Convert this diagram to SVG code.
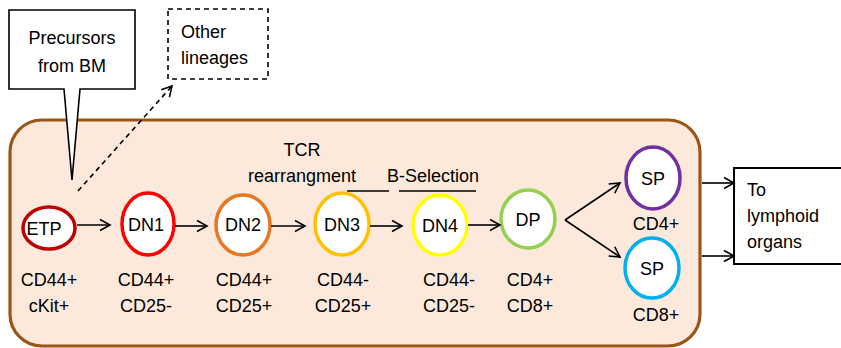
<svg xmlns="http://www.w3.org/2000/svg" width="841" height="348" viewBox="0 0 841 348">
<defs>
<marker id="arr" markerUnits="userSpaceOnUse" markerWidth="14" markerHeight="14" viewBox="0 0 14 14" refX="12" refY="7" orient="auto">
<path d="M2,1.5 L12,7 L2,12.5" fill="none" stroke="#000" stroke-width="1.6"/>
</marker>
</defs>
<style>
text{font-family:"Liberation Sans",Arial,sans-serif;font-size:18px;fill:#000}
.c{text-anchor:middle}
.cell{fill:#fff;stroke-width:3.5}
.ln{stroke:#000;stroke-width:1.6;fill:none}
</style>
<rect x="0" y="0" width="841" height="348" fill="#fff"/>
<g id="thymus">
<rect x="10" y="120" width="690" height="226" rx="32" ry="32" fill="#fde9db" stroke="#9a5519" stroke-width="3.2"/>
</g>
<g id="precursors">
<path d="M9,10 H135 V89 H80 L72,180 L64,89 H9 Z" fill="#fff" stroke="#000" stroke-width="1.6"/>
<text class="c" x="72" y="44">Precursors</text>
<text class="c" x="72" y="72">from BM</text>
</g>
<g id="other">
<rect x="168" y="9" width="100" height="70" fill="#fff" stroke="#000" stroke-width="1.6" stroke-dasharray="5,4"/>
<text x="181" y="38">Other</text>
<text x="181" y="64">lineages</text>
</g>
<g id="labels">
<text class="c" x="302" y="156">TCR</text>
<text class="c" x="302" y="182">rearrangment</text>
<text class="c" x="433" y="182">B-Selection</text>
<line x1="347" y1="191" x2="389" y2="191" class="ln"/>
<line x1="399" y1="191" x2="476" y2="191" class="ln"/>
</g>
<g id="etp">
<ellipse cx="49" cy="228" rx="26" ry="21" class="cell" stroke="#c00000"/>
<text class="c" x="44" y="235">ETP</text>
<text class="c" x="49" y="286">CD44+</text>
<text class="c" x="49" y="312">cKit+</text>
</g>
<g id="dn1">
<ellipse cx="148" cy="224" rx="26" ry="31" class="cell" stroke="#ff0000"/>
<text class="c" x="146" y="231">DN1</text>
<text class="c" x="146" y="286">CD44+</text>
<text class="c" x="146" y="312">CD25-</text>
</g>
<g id="dn2">
<ellipse cx="243" cy="225" rx="27" ry="30" class="cell" stroke="#e87722"/>
<text class="c" x="243" y="231">DN2</text>
<text class="c" x="244" y="286">CD44+</text>
<text class="c" x="244" y="312">CD25+</text>
</g>
<g id="dn3">
<ellipse cx="342" cy="224" rx="27" ry="31" class="cell" stroke="#ffc000"/>
<text class="c" x="342" y="231">DN3</text>
<text class="c" x="343" y="286">CD44-</text>
<text class="c" x="343" y="312">CD25+</text>
</g>
<g id="dn4">
<ellipse cx="440" cy="225" rx="27" ry="30" class="cell" stroke="#ffff00"/>
<text class="c" x="440" y="232">DN4</text>
<text class="c" x="449" y="286">CD44-</text>
<text class="c" x="449" y="312">CD25-</text>
</g>
<g id="dp">
<ellipse cx="528" cy="219" rx="27" ry="29" class="cell" stroke="#92d050"/>
<text class="c" x="528" y="226">DP</text>
<text class="c" x="530" y="286">CD4+</text>
<text class="c" x="530" y="312">CD8+</text>
</g>
<g id="sp4">
<ellipse cx="653" cy="178" rx="27" ry="31" class="cell" stroke="#7030a0"/>
<text class="c" x="653" y="185">SP</text>
<text class="c" x="656" y="230">CD4+</text>
</g>
<g id="sp8">
<ellipse cx="652" cy="268" rx="27" ry="30" class="cell" stroke="#00b0f0"/>
<text class="c" x="652" y="275">SP</text>
<text class="c" x="656" y="321">CD8+</text>
</g>
<g id="lymphoid">
<rect x="734" y="168" width="120" height="96" fill="#fff" stroke="#000" stroke-width="2"/>
<text x="747" y="196">To</text>
<text x="747" y="222">lymphoid</text>
<text x="747" y="248">organs</text>
</g>
<g id="connectors">
<line x1="78" y1="191" x2="172" y2="86" class="ln" stroke-dasharray="5,4" marker-end="url(#arr)"/>
<line x1="77" y1="225" x2="110" y2="225" class="ln" marker-end="url(#arr)"/>
<line x1="175" y1="226" x2="207" y2="226" class="ln" marker-end="url(#arr)"/>
<line x1="271" y1="226" x2="305" y2="226" class="ln" marker-end="url(#arr)"/>
<line x1="370" y1="226" x2="402" y2="226" class="ln" marker-end="url(#arr)"/>
<line x1="468" y1="225" x2="500" y2="225" class="ln" marker-end="url(#arr)"/>
<line x1="565" y1="220" x2="620" y2="183" class="ln" marker-end="url(#arr)"/>
<line x1="565" y1="220" x2="620" y2="257" class="ln" marker-end="url(#arr)"/>
<line x1="702" y1="183" x2="734" y2="183" class="ln" marker-end="url(#arr)"/>
<line x1="702" y1="256" x2="734" y2="256" class="ln" marker-end="url(#arr)"/>
</g>
</svg>
